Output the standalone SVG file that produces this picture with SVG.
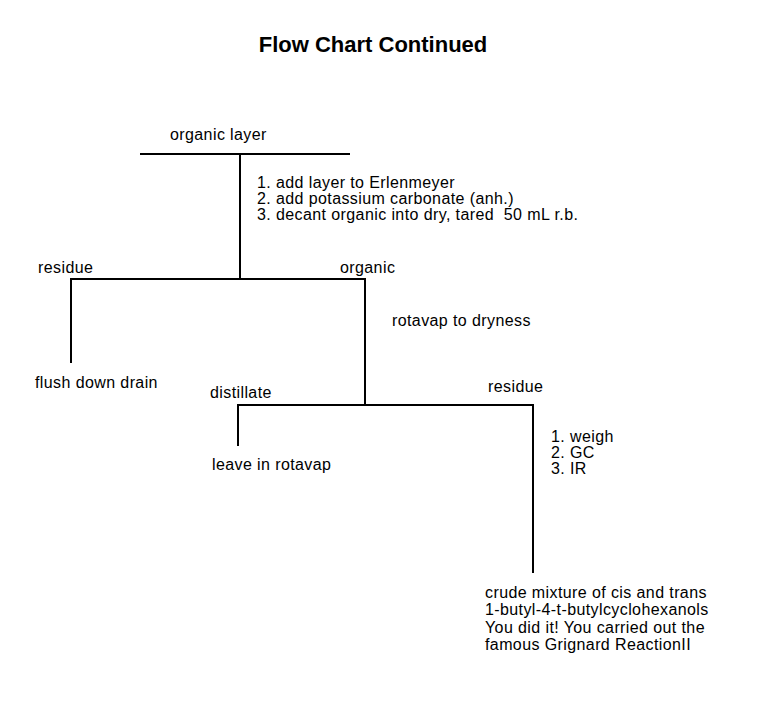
<svg xmlns="http://www.w3.org/2000/svg" width="768" height="707" viewBox="0 0 768 707">
<style>
text{font-family:"Liberation Sans",Arial,sans-serif;font-size:16px;fill:#000;letter-spacing:0.4px}
.title{font-size:22px;font-weight:bold;letter-spacing:0}
.pre{white-space:pre}
line{stroke:#000;stroke-width:2}
</style>
<rect width="768" height="707" fill="#fff"/>
<text class="title" x="373" y="52" text-anchor="middle">Flow Chart Continued</text>
<g id="connectors">
<line x1="140" y1="154" x2="350" y2="154"/>
<line x1="240" y1="154" x2="240" y2="279"/>
<line x1="70" y1="279" x2="366" y2="279"/>
<line x1="71" y1="278" x2="71" y2="363"/>
<line x1="365" y1="278" x2="365" y2="405"/>
<line x1="237" y1="405" x2="534" y2="405"/>
<line x1="238" y1="404" x2="238" y2="446"/>
<line x1="533" y1="404" x2="533" y2="573"/>
</g>
<g id="organic-layer"><text x="170" y="140">organic layer</text></g>
<g id="steps1"><text x="257" y="188">1. add layer to Erlenmeyer</text><text x="257" y="204">2. add potassium carbonate (anh.)</text><text class="pre" x="257" y="220" xml:space="preserve">3. decant organic into dry, tared  50 mL r.b.</text></g>
<g id="residue1"><text x="38" y="273">residue</text></g>
<g id="organic"><text x="340" y="273">organic</text></g>
<g id="rotavap"><text x="392" y="326">rotavap to dryness</text></g>
<g id="flush"><text x="35" y="388">flush down drain</text></g>
<g id="distillate"><text x="210" y="398">distillate</text></g>
<g id="residue2"><text x="488" y="392">residue</text></g>
<g id="leave"><text x="212" y="470">leave in rotavap</text></g>
<g id="steps2"><text x="551" y="442">1. weigh</text><text x="551" y="458">2. GC</text><text x="551" y="474">3. IR</text></g>
<g id="crude"><text x="485" y="598">crude mixture of cis and trans</text><text x="485" y="615">1-butyl-4-t-butylcyclohexanols</text><text x="485" y="633">You did it! You carried out the</text><text x="485" y="650">famous Grignard ReactionII</text></g>
</svg>
